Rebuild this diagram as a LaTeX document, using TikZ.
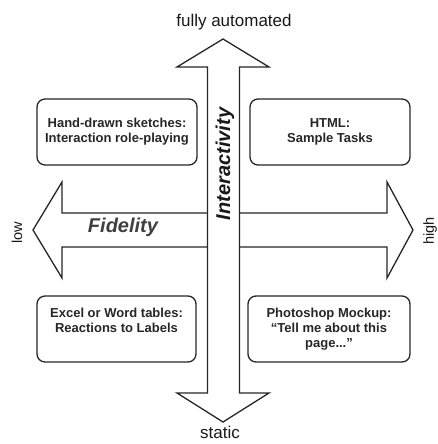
\documentclass[tikz,border=0pt]{standalone}
\usepackage{fontspec}
\setmainfont{Liberation Sans}
\begin{document}
\begin{tikzpicture}[x=1pt,y=-1pt,
  outline/.style={draw=black!85, line width=1.3pt, line join=miter},
  card/.style={draw=black!85, line width=1.3pt, rounded corners=8pt,
    align=center, inner sep=0pt, text=black!85,
    font=\fontsize{13}{15}\selectfont\bfseries},
  endlabel/.style={text=black!90, inner sep=1pt, font=\fontsize{17}{18}\selectfont},
  sidelabel/.style={text=black!90, rotate=90, font=\fontsize{14.5}{16}\selectfont},
  axisname/.style={font=\fontsize{20}{22}\selectfont\bfseries\itshape}]
\useasboundingbox (0,0) rectangle (437,444);

% horizontal double arrow (fidelity)
\draw[outline, fill=white]
  (62,213) -- (62,182) -- (33,230) -- (62,278) -- (62,247)
  -- (387,247) -- (387,278) -- (413,230) -- (387,182) -- (387,213) -- cycle;

% vertical double arrow (interactivity), drawn over the horizontal one
\draw[outline, fill=white]
  (207.5,67) -- (177,67) -- (223,39) -- (269,67) -- (239.5,67)
  -- (239.5,393) -- (269,393) -- (223,422) -- (177,393) -- (207.5,393) -- cycle;

\node[axisname, text=black!75] (fid) at (123,227) {Fidelity};
\node[axisname, text=black!90, rotate=90] (inter) at (225,164) {Interactivity};

% axis end labels
\node[endlabel] (auto) at (234,22) {fully automated};
\node[endlabel, anchor=base] (static) at (220,438) {static};
\node[sidelabel] (low) at (17,233) {low};
\node[sidelabel] (high) at (430,231) {high};

% quadrant cards
\node[card, minimum width=160pt, minimum height=66pt] (sketch) at (117,132)
  {Hand-drawn sketches:\\Interaction role-playing};
\node[card, minimum width=160pt, minimum height=66pt] (html) at (330,132)
  {HTML:\\Sample Tasks};
\node[card, minimum width=159pt, minimum height=66pt] (excel) at (116.5,329)
  {Excel or Word tables:\\Reactions to Labels\\[2pt]};
\node[card, minimum width=162pt, minimum height=66pt] (photo) at (329,329)
  {Photoshop Mockup:\\“Tell me about this\\page...”};
\end{tikzpicture}
\end{document}
